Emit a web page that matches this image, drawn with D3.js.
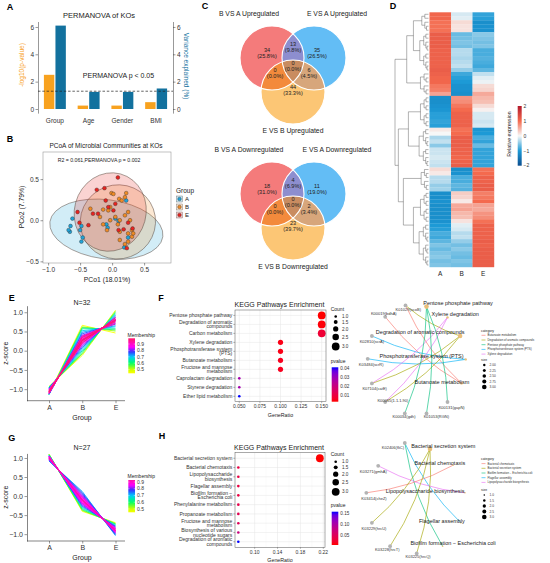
<!DOCTYPE html>
<html>
<head>
<meta charset="utf-8">
<title>Figure</title>
<script src="https://cdn.jsdelivr.net/npm/d3@7"></script>
<style>
  body { margin: 0; background: #fff; }
  svg text { font-family: "Liberation Sans", Arial, Helvetica, sans-serif; }
</style>
</head>
<body>
<div id="fig"></div>
<script>
// ---------- data: A (PERMANOVA) ----------
var permFactors = ["Group", "Age", "Gender", "BMI"];
var permLogP = [2.5, 0.25, 0.25, 0.5];
var permVariance = [6.1, 1.25, 1.25, 1.5];

// ---------- data: B (PCoA) ----------
var pcoaGroups = ["A", "B", "E"];
var pcoaAx = [-0.62, -0.65, -0.66, -0.68, -0.50, -0.46, -0.48, -0.09, -0.07, 0.05, 0.10, 0.19, 0.22, 0.25, -0.48];
var pcoaAy = [0.02, -0.07, -0.14, -0.12, -0.12, -0.21, -0.26, -0.05, -0.09, 0.02, -0.01, -0.33, 0.24, -0.21, -0.07];
var pcoaBx = [-0.01, 0.02, 0.11, 0.15, 0.22, 0.20, -0.03, -0.06, -0.14, -0.19, -0.03, 0.05, 0.12, 0.20, 0.25, 0.28, 0.31, 0.25, 0.12, 0.31, 0.12, 0.20, 0.25, -0.08, -0.14, 0.09, -0.34, 0.33];
var pcoaBy = [0.33, 0.32, 0.26, 0.24, 0.33, 0.28, 0.16, 0.12, 0.13, 0.04, 0.00, 0.04, 0.00, 0.06, 0.10, 0.00, -0.12, -0.16, -0.14, -0.20, -0.24, -0.29, -0.26, -0.12, -0.05, -0.05, 0.14, -0.16];
var pcoaEx = [0.09, -0.24, -0.12, -0.54, -0.51, -0.10, 0.05, -0.22, -0.37, 0.25, 0.23, 0.32, 0.10, -0.30, 0.02, -0.06, 0.18];
var pcoaEy = [0.52, 0.37, 0.39, 0.10, -0.03, 0.24, 0.20, 0.08, -0.06, -0.03, -0.34, -0.10, -0.12, 0.08, 0.12, 0.16, -0.11];
// 95% ellipses (centre x, centre y, semi-axis x, semi-axis y, tilt in degrees)
var ellipseA = [-0.09, -0.11, 0.89, 0.36, 7.5];
var ellipseB = [0.09, -0.02, 0.59, 0.45, -20];
var ellipseE = [-0.03, 0.10, 0.56, 0.48, 15];

// ---------- data: C (Venn) ----------
// regions: only1, 1&2, only2, 1&3, 1&2&3, 2&3, only3
var vennUpNames = ["B VS A Upregulated", "E VS A Upregulated", "E VS B Upregulated"];
var vennUpCounts = [34, 13, 35, 0, 0, 6, 44];
var vennDownNames = ["B VS A Downregulated", "E VS A Downregulated", "E VS B Downregulated"];
var vennDownCounts = [18, 4, 11, 0, 0, 2, 23];

// ---------- data: D (heatmap, row z-scores) ----------
var heatGroups = ["A", "B", "E"];
var heatA = [1.05, 1.05, 0.95, 0.95, 0.95, 1.15, 1.15, 1.15, 1.15, 1.1, 1.1, 1.1, 1.1, 1.1, 1.15,
  1.1, 1.05, 1.05, 0.9, 0.85, 0.6, -1.15, -1.15, -1.1, -1.05, -0.95, -0.95, -0.9, -0.95,
  0.1, 0.0, -0.35, -0.25, -0.5, -0.2, -0.2, -0.15, -0.2, -0.25, 0.2, 0.1, -0.3, -0.3, -0.45, -0.4,
  -1.15, -1.15, -1.1, -1.15, -1.15, -1.15, -1.15, -1.1, -1.0, -0.95, -0.8, -0.85, -0.7, -0.55, -0.65, -0.55, -0.5, -0.6, -0.55];
var heatB = [-0.15, -0.1, 0.2, 0.15, 0.15, -0.65, -0.6, -0.55, -0.6, -0.3, -0.3, -0.35, -0.3, -0.25, -0.45,
  -0.85, -0.95, -1.0, -1.1, -1.1, -1.15, 0.7, 0.75, 0.9, 1.0, 1.1, 1.1, 1.1, 1.1,
  0.95, 1.0, 1.15, 1.15, 1.15, 1.1, 1.1, 1.05, 1.1, 1.15, -1.15, -1.1, -0.8, -0.8, -0.7, -0.75,
  0.3, 0.25, 0.1, 0.55, 0.6, 0.45, 0.4, 0.15, -0.1, -0.15, -0.3, -0.25, -0.45, -0.6, -0.5, -0.6, -0.65, -0.55, -0.6];
var heatE = [-0.9, -0.95, -1.15, -1.1, -1.1, -0.5, -0.55, -0.6, -0.55, -0.8, -0.8, -0.75, -0.8, -0.85, -0.7,
  -0.25, -0.1, -0.05, 0.2, 0.25, 0.55, 0.45, 0.4, 0.2, 0.05, -0.15, -0.15, -0.2, -0.15,
  -1.05, -1.0, -0.8, -0.9, -0.65, -0.9, -0.9, -0.9, -0.9, -0.9, 0.95, 1.0, 1.1, 1.1, 1.15, 1.15,
  0.85, 0.9, 1.0, 0.6, 0.55, 0.7, 0.75, 0.95, 1.1, 1.1, 1.1, 1.1, 1.15, 1.1, 1.15, 1.15, 1.15, 1.15, 1.15];
// dendrogram: leaf blocks (rows per block) and merge heights
var heatBlockSizes = [5, 10, 6, 8, 10, 6, 8, 11];
var heatBlockHeights = [2.0, 2.6, 2.4, 2.4, 2.8, 2.2, 2.4, 2.8];

// ---------- data: E / G (Mfuzz clusters) ----------
var trendGroups = ["A", "B", "E"];
var clusterE = [[-1.12, 0.66, 0.46], [-0.93, -0.12, 1.05], [-1.13, 0.62, 0.51], [-0.94, -0.08, 1.02],
  [-1.14, 0.60, 0.54], [-0.95, -0.04, 0.99], [-1.14, 0.57, 0.57], [-0.96, 0.00, 0.96],
  [-1.14, 0.52, 0.62], [-0.97, 0.04, 0.93], [-1.13, 0.48, 0.65], [-0.98, 0.08, 0.90],
  [-1.13, 0.44, 0.69], [-0.99, 0.12, 0.87], [-1.12, 0.40, 0.72], [-1.00, 0.15, 0.85],
  [-1.12, 0.37, 0.75], [-1.01, 0.18, 0.83], [-1.11, 0.34, 0.77], [-1.02, 0.21, 0.81],
  [-1.10, 0.32, 0.78], [-1.03, 0.23, 0.80], [-1.09, 0.30, 0.79], [-1.04, 0.25, 0.79],
  [-1.08, 0.29, 0.79], [-1.05, 0.27, 0.78], [-1.07, 0.28, 0.79], [-1.06, 0.27, 0.79],
  [-1.10, 0.35, 0.75], [-1.06, 0.20, 0.86], [-1.08, 0.38, 0.70], [-1.07, 0.26, 0.81]];
var memberE = [0.44, 0.47, 0.52, 0.55, 0.58, 0.60, 0.64, 0.66, 0.69, 0.71, 0.73, 0.75, 0.77, 0.79, 0.81, 0.83,
  0.84, 0.86, 0.87, 0.88, 0.89, 0.90, 0.91, 0.92, 0.93, 0.94, 0.95, 0.96, 0.97, 0.98, 0.92, 0.99];
var clusterG = [[1.10, -0.40, -0.70], [1.10, -0.38, -0.72], [1.09, -0.36, -0.73], [1.08, -0.33, -0.75],
  [1.07, -0.30, -0.77], [0.92, 0.12, -1.04], [0.93, 0.09, -1.02], [1.06, -0.27, -0.79],
  [0.94, 0.06, -1.00], [1.05, -0.24, -0.81], [0.95, 0.03, -0.98], [1.04, -0.21, -0.83],
  [0.96, 0.00, -0.96], [1.04, -0.19, -0.85], [0.97, -0.03, -0.94], [1.03, -0.17, -0.86],
  [0.98, -0.05, -0.93], [1.02, -0.15, -0.87], [0.99, -0.07, -0.92], [1.01, -0.12, -0.89],
  [1.00, -0.09, -0.91], [1.00, -0.11, -0.89], [1.01, -0.10, -0.91], [1.00, -0.10, -0.90],
  [1.03, -0.13, -0.90], [0.98, -0.02, -0.96], [1.05, -0.20, -0.85]];
var memberG = [0.45, 0.52, 0.58, 0.63, 0.67, 0.72, 0.75, 0.76, 0.78, 0.79, 0.80, 0.81, 0.82, 0.83,
  0.84, 0.85, 0.86, 0.87, 0.88, 0.89, 0.90, 0.91, 0.92, 0.93, 0.90, 0.87, 0.86];

// ---------- data: F / H (KEGG enrichment) ----------
var keggF = ["Pentose phosphate pathway", "Degradation of aromatic\ncompounds", "Carbon metabolism",
  "Xylene degradation", "Phosphotransferase system\n(PTS)", "Butanoate metabolism",
  "Fructose and mannose\nmetabolism", "Caprolactam degradation", "Styrene degradation", "Ether lipid metabolism"];
var keggFRatio = [0.15, 0.15, 0.15, 0.10, 0.10, 0.10, 0.10, 0.05, 0.05, 0.05];
var keggFCount = [3, 3, 3, 2, 2, 2, 2, 1, 1, 1];
var keggFP = [0.0025, 0.003, 0.008, 0.004, 0.004, 0.005, 0.005, 0.028, 0.028, 0.041];

var keggH = ["Bacterial secretion system", "Bacterial chemotaxis", "Lipopolysaccharide\nbiosynthesis",
  "Flagellar assembly", "Biofilm formation \u2212\nEscherichia coli", "Phenylalanine metabolism",
  "Propanoate metabolism", "Fructose and mannose\nmetabolism", "Biosynthesis of various\nnucleotide sugars",
  "Degradation of aromatic\ncompounds"];
var keggHRatio = [0.214, 0.0714, 0.0714, 0.0714, 0.0714, 0.0714, 0.0714, 0.0714, 0.0714, 0.0714];
var keggHCount = [3, 1, 1, 1, 1, 1, 1, 1, 1, 1];
var keggHP = [0.004, 0.035, 0.035, 0.035, 0.035, 0.04, 0.045, 0.05, 0.075, 0.16];

// ---------- data: gene-concept networks (layout units -1..1) ----------
var netFCats = ["Pentose phosphate pathway", "Xylene degradation", "Degradation of aromatic compounds",
  "Phosphotransferase system (PTS)", "Butanoate metabolism"];
var netFCatCount = [3, 2, 3, 2, 2];
var netFCatX = [-0.05, 0.25, 0.43, 0.51, 0.45];
var netFCatY = [-0.89, -0.71, -0.40, -0.01, 0.39];
var netFCatLabX = [0.40, 0.36, -0.14, -0.12, 0.17];
var netFCatLabY = [-0.95, -0.76, -0.46, -0.06, 0.36];
var netFGenes = ["K01029(scoB)", "K00019(bdhA)", "K02810(scrA)", "K03484(scrR)", "K07104(catE)",
  "K00055(1.1.1.90)", "K00034(gdh)", "K01053(RGN)", "K00131(gapN)"];
var netFGeneX = [-0.35, -0.64, -0.83, -0.89, -0.83, -0.64, -0.36, -0.05, 0.25];
var netFGeneY = [-0.91, -0.72, -0.40, -0.02, 0.39, 0.70, 0.89, 0.89, 0.70];
var netFGeneLabX = [-0.31, -0.66, -0.83, -0.84, -0.79, -0.53, -0.37, 0.09, 0.31];
var netFGeneLabY = [-0.84, -0.78, -0.30, 0.07, 0.48, 0.68, 0.95, 0.95, 0.79];
var netFEdges = [[0, 4], [0, 2], [1, 4], [2, 3], [3, 3], [4, 2], [4, 1], [5, 2], [5, 1], [6, 0], [7, 0], [8, 0]];

var netHCats = ["Bacterial secretion system", "Bacterial chemotaxis", "Lipopolysaccharide biosynthesis",
  "Flagellar assembly", "Biofilm formation \u2212 Escherichia coli"];
var netHCatCount = [3, 1, 1, 1, 1];
var netHCatX = [0.00, 0.33, 0.50, 0.44, 0.18];
var netHCatY = [-0.85, -0.58, -0.12, 0.38, 0.77];
var netHCatLabX = [0.19, 0.14, -0.07, 0.17, 0.33];
var netHCatLabY = [-0.90, -0.61, -0.15, 0.35, 0.71];
var netHGenes = ["K02406(fliC)", "K03271(gmhA)", "K03414(cheZ)", "K03229(hrcU)", "K03228(hrcT)", "K03225(hrcQ)"];
var netHGeneX = [-0.36, -0.74, -0.91, -0.83, -0.57, -0.19];
var netHGeneY = [-0.95, -0.57, -0.12, 0.38, 0.77, 0.89];
var netHGeneLabX = [-0.53, -0.81, -0.80, -0.80, -0.61, -0.17];
var netHGeneLabY = [-0.88, -0.48, -0.03, 0.47, 0.83, 0.95];
var netHEdges = [[0, 3], [0, 4], [1, 2], [2, 1], [3, 0], [4, 0], [5, 0]];

// ================= drawing =================
var svg = d3.select("#fig").append("svg").attr("width", 550).attr("height", 563);
svg.append("rect").attr("width", 550).attr("height", 563).attr("fill", "#fff");
var defs = svg.append("defs");

function addText(g, x, y, s, size, o) {
  o = o || {};
  var t = g.append("text").attr("x", x).attr("y", y).attr("dy", o.dy || "0.35em")
    .attr("text-anchor", o.anchor || "middle")
    .style("font-size", size + "px").style("fill", o.fill || "#222").text(s);
  if (o.bold) t.style("font-weight", "bold");
  if (o.rotate) t.attr("transform", "rotate(" + o.rotate + "," + x + "," + y + ")");
  return t;
}

function styleAxis(a, size) {
  a.attr("font-family", null).attr("font-size", null);
  a.selectAll("text").style("font-size", size + "px").style("fill", "#333");
  a.selectAll("line").attr("stroke", "#333").attr("stroke-width", 0.5);
  a.selectAll("path").attr("stroke", "#333").attr("stroke-width", 0.5);
}

// panel letters
[["A", 10, 7], ["B", 10, 139], ["C", 205, 6], ["D", 393, 6], ["E", 11.7, 298], ["F", 161, 298],
 ["G", 11.7, 438], ["H", 162, 436]].forEach(function (p) {
  addText(svg, p[1], p[2], p[0], 9, {bold: true, fill: "#000"});
});

// ---------- Panel A ----------
var gA = svg.append("g");
var xA = d3.scaleBand().domain(permFactors).range([38, 173]).paddingInner(0.35).paddingOuter(0.175);
var xA2 = d3.scaleBand().domain(["logp", "variance"]).range([0, xA.bandwidth()]).paddingInner(0.1);
var yA = d3.scaleLinear().domain([-0.3, 6.4]).range([113.1, 21.5]);
var permRows = permFactors.map(function (f, i) {
  return {f: f, logp: permLogP[i], variance: permVariance[i]};
});
["logp", "variance"].forEach(function (k) {
  gA.selectAll("rect." + k).data(permRows).enter().append("rect").attr("class", k)
    .attr("x", function (d) { return xA(d.f) + xA2(k); })
    .attr("y", function (d) { return yA(d[k]); })
    .attr("width", xA2.bandwidth())
    .attr("height", function (d) { return yA(0) - yA(d[k]); })
    .attr("fill", k === "logp" ? "#f8a21f" : "#12719e");
});
var axA1 = gA.append("g").attr("transform", "translate(38,0)")
  .call(d3.axisLeft(yA).tickValues([0, 2, 4, 6]).tickFormat(d3.format("d")).tickSize(2.5).tickPadding(1.5).tickSizeOuter(0));
styleAxis(axA1, 6.5);
var axA2 = gA.append("g").attr("transform", "translate(173,0)")
  .call(d3.axisRight(yA).tickValues([0, 2, 4, 6]).tickFormat(d3.format("d")).tickSize(2.5).tickPadding(1.5).tickSizeOuter(0));
styleAxis(axA2, 6.5);
gA.selectAll("text.xl").data(permFactors).enter().append("text").attr("class", "xl")
  .attr("x", function (d) { return xA(d) + xA.bandwidth() / 2; }).attr("y", 120.5).attr("dy", "0.35em")
  .attr("text-anchor", "middle").style("font-size", "6.5px").style("fill", "#333").text(function (d) { return d; });
gA.append("line").attr("x1", 38).attr("x2", 173)
  .attr("y1", yA(-Math.log10(0.05))).attr("y2", yA(-Math.log10(0.05)))
  .attr("stroke", "#222").attr("stroke-width", 0.7).attr("stroke-dasharray", "2.5,1.8");
addText(gA, 118.5, 76, "PERMANOVA p < 0.05", 7);
addText(gA, 99, 15, "PERMANOVA of KOs", 7.5);
addText(gA, 21.5, 65, "-log10(p-value)", 6.5, {fill: "#f8a21f", rotate: -90});
addText(gA, 186.5, 66, "Variance explained (%)", 6.5, {fill: "#12719e", rotate: 90});

// ---------- Panel B ----------
var gB = svg.append("g");
var xB = d3.scaleLinear().domain([-1.08, 0.92]).range([43, 171]);
var yB = d3.scaleLinear().domain([-0.52, 0.83]).range([263, 152]);
var groupColor = d3.scaleOrdinal().domain(pcoaGroups).range(["#1fa3d8", "#f08a24", "#e8231f"]);
defs.append("clipPath").attr("id", "clipB").append("rect").attr("x", 43).attr("y", 152).attr("width", 128).attr("height", 111);
var gBin = gB.append("g").attr("clip-path", "url(#clipB)");
var pxPerX = xB(1) - xB(0), pxPerY = yB(0) - yB(1);
[["A", ellipseA], ["B", ellipseB], ["E", ellipseE]].forEach(function (e) {
  var p = e[1];
  gBin.append("ellipse")
    .attr("transform", "translate(" + xB(p[0]) + "," + yB(p[1]) + ") rotate(" + p[4] + ")")
    .attr("rx", p[2] * pxPerX).attr("ry", p[3] * pxPerY)
    .attr("fill", groupColor(e[0])).attr("fill-opacity", 0.2)
    .attr("stroke", "#5a4a40").attr("stroke-opacity", 0.8).attr("stroke-width", 0.6);
});
var pcoaPts = [];
pcoaAx.forEach(function (v, i) { pcoaPts.push({g: "A", x: v, y: pcoaAy[i]}); });
pcoaBx.forEach(function (v, i) { pcoaPts.push({g: "B", x: v, y: pcoaBy[i]}); });
pcoaEx.forEach(function (v, i) { pcoaPts.push({g: "E", x: v, y: pcoaEy[i]}); });
gBin.selectAll("circle.pt").data(pcoaPts).enter().append("circle").attr("class", "pt")
  .attr("cx", function (d) { return xB(d.x); }).attr("cy", function (d) { return yB(d.y); })
  .attr("r", 1.9).attr("fill", function (d) { return groupColor(d.g); })
  .attr("stroke", "#333").attr("stroke-width", 0.4);
gB.append("rect").attr("x", 43).attr("y", 152).attr("width", 128).attr("height", 111)
  .attr("fill", "none").attr("stroke", "#999").attr("stroke-width", 0.6);
var axB1 = gB.append("g").attr("transform", "translate(0,263)")
  .call(d3.axisBottom(xB).tickValues([-1, -0.5, 0, 0.5]).tickFormat(d3.format(".1f")).tickSize(2.5).tickPadding(1.5).tickSizeOuter(0));
styleAxis(axB1, 6.5); axB1.select(".domain").remove();
var axB2 = gB.append("g").attr("transform", "translate(43,0)")
  .call(d3.axisLeft(yB).tickValues([-0.5, 0, 0.5]).tickFormat(d3.format(".1f")).tickSize(2.5).tickPadding(1.5).tickSizeOuter(0));
styleAxis(axB2, 6.5); axB2.select(".domain").remove();
addText(gB, 106, 146, "PCoA of Microbial Communities at KOs", 6.5);
addText(gB, 99, 160, "R2 = 0.061,PERMANOVA p = 0.002", 5.2);
addText(gB, 107, 280, "PCo1 (18.01%)", 6.8);
addText(gB, 22, 207, "PCo2 (7.79%)", 6.8, {rotate: -90});
addText(gB, 176, 191, "Group", 6.5, {anchor: "start"});
pcoaGroups.forEach(function (k, i) {
  var ky = 196 + i * 8;
  gB.append("rect").attr("x", 176.5).attr("y", ky).attr("width", 6).attr("height", 6)
    .attr("fill", groupColor(k)).attr("fill-opacity", 0.25).attr("stroke", "#666").attr("stroke-width", 0.4);
  gB.append("circle").attr("cx", 179.5).attr("cy", ky + 3).attr("r", 1.8)
    .attr("fill", groupColor(k)).attr("stroke", "#333").attr("stroke-width", 0.4);
  addText(gB, 185, ky + 3, k, 6, {anchor: "start"});
});

// ---------- Panel C ----------
var vennFills = ["#f47b7b", "#63bdf5", "#fcc675"];
var vennOverlap = {"01": "#8d8ecf", "02": "#f38a3c", "12": "#d7a67b"};
function drawVenn(cx, cy, names, counts) {
  var g = svg.append("g").attr("transform", "translate(" + cx + "," + cy + ")");
  var r = 32, ctr = [[-21, 0], [21, 0], [0, 34]];
  var uid = "venn" + cy;
  ctr.forEach(function (c, i) {
    g.append("clipPath").attr("id", uid + i).append("circle").attr("cx", c[0]).attr("cy", c[1]).attr("r", r);
  });
  g.selectAll("circle.set").data(ctr).enter().append("circle").attr("class", "set")
    .attr("cx", function (d) { return d[0]; }).attr("cy", function (d) { return d[1]; }).attr("r", r)
    .attr("fill", function (d, i) { return vennFills[i]; });
  [[0, 1], [0, 2], [1, 2]].forEach(function (p) {
    g.append("g").attr("clip-path", "url(#" + uid + p[0] + ")").append("circle")
      .attr("cx", ctr[p[1]][0]).attr("cy", ctr[p[1]][1]).attr("r", r).attr("fill", vennOverlap["" + p[0] + p[1]]);
  });
  g.append("g").attr("clip-path", "url(#" + uid + "0)").append("g").attr("clip-path", "url(#" + uid + "1)")
    .append("circle").attr("cx", ctr[2][0]).attr("cy", ctr[2][1]).attr("r", r).attr("fill", "#c98c60");
  g.selectAll("circle.edge").data(ctr).enter().append("circle").attr("class", "edge")
    .attr("cx", function (d) { return d[0]; }).attr("cy", function (d) { return d[1]; }).attr("r", r)
    .attr("fill", "none").attr("stroke", "#fff").attr("stroke-width", 1.1);
  var total = d3.sum(counts);
  var spots = [[-26, -8], [0, -14], [24, -8], [-18, 12], [0, 5], [16, 12], [0, 29]];
  counts.forEach(function (c, i) {
    addText(g, spots[i][0], spots[i][1], c, 5.6);
    addText(g, spots[i][0], spots[i][1] + 6.3, "(" + d3.format(".1f")(c / total * 100) + "%)", 5.6);
  });
  addText(g, -44, -44, names[0], 6.8);
  addText(g, 44, -44, names[1], 6.8);
  addText(g, 0, 73, names[2], 6.8);
}
drawVenn(293, 58, vennUpNames, vennUpCounts);
drawVenn(293, 194, vennDownNames, vennDownCounts);

// ---------- Panel D ----------
var gD = svg.append("g");
var xD = d3.scaleBand().domain(heatGroups).range([429.5, 494]);
var yD = d3.scaleBand().domain(d3.range(heatA.length)).range([12.3, 267]);
var heatColor = d3.scaleLinear().domain([-2, -1, 0, 1, 2])
  .range(["#0b4e8f", "#1d9ad6", "#f7f7f7", "#f46a4e", "#b2182b"]);
var heatCells = [];
heatA.forEach(function (v, i) {
  heatCells.push({r: i, c: "A", v: v}, {r: i, c: "B", v: heatB[i]}, {r: i, c: "E", v: heatE[i]});
});
gD.selectAll("rect.cell").data(heatCells).enter().append("rect").attr("class", "cell")
  .attr("x", function (d) { return xD(d.c); }).attr("y", function (d) { return yD(d.r); })
  .attr("width", xD.bandwidth() + 0.2).attr("height", yD.bandwidth() + 0.2)
  .attr("fill", function (d) { return heatColor(d.v); });
heatGroups.forEach(function (k) { addText(gD, xD(k) + xD.bandwidth() / 2, 273.5, k, 6.5); });
// dendrogram
function bisectTree(lo, hi, h) {
  if (hi - lo === 1) return {leaf: lo};
  var mid = Math.floor((lo + hi) / 2);
  return {h: h, kids: [bisectTree(lo, mid, h * 0.55), bisectTree(mid, hi, h * 0.55)]};
}
var blocks = [], start = 0;
heatBlockSizes.forEach(function (n, i) { blocks.push(bisectTree(start, start + n, heatBlockHeights[i])); start += n; });
var heatTree = {h: 10, kids: [
  {h: 6.5, kids: [{h: 4.5, kids: [blocks[0], blocks[1]]}, blocks[2]]},
  {h: 9, kids: [{h: 6, kids: [blocks[3], blocks[4]]},
    {h: 7.5, kids: [blocks[5], {h: 4.5, kids: [blocks[6], blocks[7]]}]}]}
]};
var denX = d3.scaleLinear().domain([0, 10]).range([428.5, 395]);
function drawDen(node) {
  if (node.leaf !== undefined) return {x: denX(0), y: yD(node.leaf) + yD.bandwidth() / 2};
  var a = drawDen(node.kids[0]), b = drawDen(node.kids[1]);
  var x = denX(node.h);
  gD.append("path").attr("d", "M" + a.x + "," + a.y + "H" + x + "V" + b.y + "H" + b.x)
    .attr("fill", "none").attr("stroke", "#555").attr("stroke-width", 0.45);
  return {x: x, y: (a.y + b.y) / 2};
}
drawDen(heatTree);
// colour key
var hg = defs.append("linearGradient").attr("id", "heatGrad").attr("x1", 0).attr("y1", 1).attr("x2", 0).attr("y2", 0);
d3.range(0, 1.001, 0.05).forEach(function (t) {
  hg.append("stop").attr("offset", t).attr("stop-color", heatColor(-2 + 4 * t));
});
var keyY = d3.scaleLinear().domain([-2, 2]).range([165.7, 106]);
gD.append("rect").attr("x", 517.7).attr("y", 106).attr("width", 4).attr("height", 59.7).attr("fill", "url(#heatGrad)");
[-2, -1, 0, 1, 2].forEach(function (v) {
  addText(gD, 523.5, keyY(v), d3.format("d")(v), 5, {anchor: "start", fill: "#333"});
});
addText(gD, 509, 134, "Relative expression", 5.2, {rotate: -90});

// ---------- Panels E and G ----------
var memColor = d3.scaleLinear().domain([0.44, 0.5, 0.6, 0.7, 0.78, 0.85, 0.99])
  .range(["#ffff00", "#ccff00", "#00ff66", "#00ccff", "#3333ff", "#ff00ff", "#ff1a66"]).clamp(true);
function drawTrend(o) {
  var g = svg.append("g");
  var x = d3.scalePoint().domain(trendGroups).range([49, 115.5]);
  var y = d3.scaleLinear().domain(o.yDomain).range(o.yRange);
  var line = d3.line().x(function (d, i) { return x(trendGroups[i]); }).y(function (d) { return y(d); });
  var order = d3.range(o.lines.length).sort(function (a, b) { return o.members[a] - o.members[b]; });
  g.selectAll("path.trend").data(order).enter().append("path").attr("class", "trend")
    .attr("d", function (i) { return line(o.lines[i]); })
    .attr("fill", "none").attr("stroke", function (i) { return memColor(o.members[i]); })
    .attr("stroke-width", 0.9);
  var ax = g.append("g").attr("transform", "translate(0," + o.yRange[0] + ")")
    .call(d3.axisBottom(x).tickSize(2.5).tickPadding(1.5).tickSizeOuter(0));
  styleAxis(ax, 7); ax.select(".domain").remove();
  g.append("line").attr("x1", 27).attr("x2", 125).attr("y1", o.yRange[0]).attr("y2", o.yRange[0])
    .attr("stroke", "#333").attr("stroke-width", 0.6);
  var ay = g.append("g").attr("transform", "translate(27,0)")
    .call(d3.axisLeft(y).tickValues([-1, -0.5, 0, 0.5, 1]).tickFormat(d3.format(".1f")).tickSize(2.5).tickPadding(1.5).tickSizeOuter(0));
  styleAxis(ay, 7); ay.select(".domain").attr("stroke-width", 0.6);
  addText(g, 82, o.titleY, "N=" + o.lines.length, 7);
  addText(g, 82, o.yRange[0] + 16.6, "Group", 7);
  addText(g, 6, (o.yRange[0] + o.yRange[1]) / 2, "z-score", 7, {rotate: -90});
  // membership colour bar
  var ext = d3.extent(o.members);
  var ls = d3.scaleLinear().domain(ext).range([o.barBottom, o.barTop]);
  var gid = "mem" + o.titleY;
  var gr = defs.append("linearGradient").attr("id", gid).attr("x1", 0).attr("y1", 1).attr("x2", 0).attr("y2", 0);
  d3.range(0, 1.001, 0.05).forEach(function (t) {
    gr.append("stop").attr("offset", t).attr("stop-color", memColor(ext[0] + t * (ext[1] - ext[0])));
  });
  g.append("rect").attr("x", 128.3).attr("y", o.barTop).attr("width", 6.7).attr("height", o.barBottom - o.barTop)
    .attr("fill", "url(#" + gid + ")");
  addText(g, 127.5, o.barTop - 3.5, "Membership", 5, {anchor: "start"});
  [0.5, 0.6, 0.7, 0.8, 0.9].forEach(function (v) {
    g.append("line").attr("x1", 128.3).attr("x2", 129.6).attr("y1", ls(v)).attr("y2", ls(v)).attr("stroke", "#fff").attr("stroke-width", 0.4);
    g.append("line").attr("x1", 133.7).attr("x2", 135).attr("y1", ls(v)).attr("y2", ls(v)).attr("stroke", "#fff").attr("stroke-width", 0.4);
    addText(g, 137, ls(v), d3.format(".1f")(v), 5, {anchor: "start", fill: "#333"});
  });
}
drawTrend({lines: clusterE, members: memberE, yDomain: [-1.3, 1.17], yRange: [400.7, 305.7],
  titleY: 303, barTop: 338.3, barBottom: 373.3});
drawTrend({lines: clusterG, members: memberG, yDomain: [-1.18, 1.12], yRange: [541, 453.4],
  titleY: 448, barTop: 480, barBottom: 512.3});

// ---------- Panels F and H (dot plots) ----------
var sizeScale = d3.scaleLinear().domain([1, 3]).range([1.3, 3.9]);
function drawDot(o) {
  var g = svg.append("g");
  var x = d3.scaleLinear().domain(o.xDomain).range([235, o.right]);
  var y = d3.scalePoint().domain(o.names).range([o.top, o.bottom]).padding(0.6);
  var minors = o.ticks.slice(1).map(function (t, i) { return (t + o.ticks[i]) / 2; });
  g.selectAll("line.vmin").data(minors).enter().append("line").attr("class", "vmin")
    .attr("x1", function (d) { return x(d); }).attr("x2", function (d) { return x(d); })
    .attr("y1", o.top).attr("y2", o.bottom).attr("stroke", "#f0f0f0").attr("stroke-width", 0.3);
  g.selectAll("line.vmaj").data(o.ticks).enter().append("line").attr("class", "vmaj")
    .attr("x1", function (d) { return x(d); }).attr("x2", function (d) { return x(d); })
    .attr("y1", o.top).attr("y2", o.bottom).attr("stroke", "#e4e4e4").attr("stroke-width", 0.5);
  g.selectAll("line.hmaj").data(o.names).enter().append("line").attr("class", "hmaj")
    .attr("x1", 235).attr("x2", o.right).attr("y1", function (d) { return y(d); }).attr("y2", function (d) { return y(d); })
    .attr("stroke", "#e4e4e4").attr("stroke-width", 0.5);
  var pColor = d3.scaleLinear().domain(d3.extent(o.p)).range(["red", "blue"]).interpolate(d3.interpolateLab);
  var rows = o.names.map(function (n, i) { return {n: n, r: o.ratio[i], c: o.count[i], p: o.p[i]}; });
  g.selectAll("circle.dot").data(rows).enter().append("circle").attr("class", "dot")
    .attr("cx", function (d) { return x(d.r); }).attr("cy", function (d) { return y(d.n); })
    .attr("r", function (d) { return sizeScale(d.c); }).attr("fill", function (d) { return pColor(d.p); });
  g.append("rect").attr("x", 235).attr("y", o.top).attr("width", o.right - 235).attr("height", o.bottom - o.top)
    .attr("fill", "none").attr("stroke", "#555").attr("stroke-width", 0.5);
  o.names.forEach(function (n) {
    var parts = n.split("\n");
    g.append("line").attr("x1", 233.3).attr("x2", 235).attr("y1", y(n)).attr("y2", y(n)).attr("stroke", "#444").attr("stroke-width", 0.4);
    var t = g.append("text").attr("x", 232.3).attr("y", y(n)).attr("text-anchor", "end")
      .style("font-size", "5px").style("fill", "#333");
    parts.forEach(function (p, k) {
      t.append("tspan").attr("x", 232.3).attr("dy", k === 0 ? (0.35 - (parts.length - 1) * 0.46) + "em" : "0.92em").text(p);
    });
  });
  o.ticks.forEach(function (v) {
    g.append("line").attr("x1", x(v)).attr("x2", x(v)).attr("y1", o.bottom).attr("y2", o.bottom + 1.5).attr("stroke", "#444").attr("stroke-width", 0.4);
    addText(g, x(v), o.bottom + 4.6, o.fmt(v), 5, {fill: "#333"});
  });
  addText(g, (235 + o.right) / 2, o.bottom + 13.3, "GeneRatio", 5.3);
  addText(g, (235 + o.right) / 2 - 1, o.top - 5, "KEGG Pathways Enrichment", 7);
  // Count legend
  addText(g, 330.7, o.countY, "Count", 5, {anchor: "start"});
  var cy = o.countY + 7.5, prev = null;
  [1.0, 1.5, 2.0, 2.5, 3.0].forEach(function (v) {
    var r = sizeScale(v);
    if (prev !== null) cy += prev + r + 2.3;
    g.append("circle").attr("cx", 335.7).attr("cy", cy).attr("r", r).attr("fill", "#000");
    addText(g, 342, cy, d3.format(".1f")(v), 4.6, {anchor: "start", fill: "#333"});
    prev = r;
  });
  // pvalue legend
  var pe = d3.extent(o.p);
  var ps = d3.scaleLinear().domain(pe).range([o.pBottom, o.pTop]);
  var gid = "pg" + o.top;
  var gr = defs.append("linearGradient").attr("id", gid).attr("x1", 0).attr("y1", 1).attr("x2", 0).attr("y2", 0);
  d3.range(0, 1.001, 0.1).forEach(function (t) {
    gr.append("stop").attr("offset", t).attr("stop-color", pColor(pe[0] + t * (pe[1] - pe[0])));
  });
  addText(g, 330.7, o.pTop - 6.5, "pvalue", 5, {anchor: "start"});
  g.append("rect").attr("x", 331.7).attr("y", o.pTop).attr("width", 6.6).attr("height", o.pBottom - o.pTop)
    .attr("fill", "url(#" + gid + ")");
  o.pTicks.forEach(function (v) {
    addText(g, 340.3, ps(v), o.pFmt(v), 4.6, {anchor: "start", fill: "#333"});
  });
}
drawDot({names: keggF, ratio: keggFRatio, count: keggFCount, p: keggFP,
  xDomain: [0.0448, 0.1552], right: 326, top: 310, bottom: 401.7,
  ticks: [0.05, 0.075, 0.1, 0.125, 0.15], fmt: d3.format(".3f"),
  countY: 309, pTop: 367.3, pBottom: 401.7, pTicks: [0.01, 0.02, 0.03, 0.04], pFmt: d3.format(".2f")});
drawDot({names: keggH, ratio: keggHRatio, count: keggHCount, p: keggHP,
  xDomain: [0.0656, 0.223], right: 325, top: 452.7, bottom: 547.3,
  ticks: [0.10, 0.14, 0.18, 0.22], fmt: d3.format(".2f"),
  countY: 454.3, pTop: 511.7, pBottom: 545, pTicks: [0.05, 0.10, 0.15], pFmt: d3.format(".2f")});

// ---------- gene-concept networks ----------
var hue5 = ["#F8766D", "#A3A500", "#00BF7D", "#00B0F6", "#E76BF3"];
function drawNet(o) {
  var g = svg.append("g");
  var x = d3.scaleLinear().domain([-1, 1]).range([360, 500]);
  var y = d3.scaleLinear().domain([-1, 1]).range(o.yRange);
  var legendCats = o.cats.slice().sort(d3.ascending);
  var catColor = d3.scaleOrdinal().domain(legendCats).range(hue5);
  o.edges.forEach(function (e) {
    var x1 = x(o.geneX[e[0]]), y1 = y(o.geneY[e[0]]), x2 = x(o.catX[e[1]]), y2 = y(o.catY[e[1]]);
    var cx = (x1 + x2) / 2 - (y2 - y1) * 0.1, cy = (y1 + y2) / 2 + (x2 - x1) * 0.1;
    g.append("path").attr("d", "M" + x1 + "," + y1 + "Q" + cx + "," + cy + " " + x2 + "," + y2)
      .attr("fill", "none").attr("stroke", catColor(o.cats[e[1]])).attr("stroke-opacity", 0.8).attr("stroke-width", 0.8);
  });
  o.genes.forEach(function (n, i) {
    g.append("circle").attr("cx", x(o.geneX[i])).attr("cy", y(o.geneY[i])).attr("r", 1.9).attr("fill", "#b3b3b3");
  });
  o.cats.forEach(function (n, i) {
    g.append("circle").attr("cx", x(o.catX[i])).attr("cy", y(o.catY[i])).attr("r", o.rScale(o.catCount[i])).attr("fill", "#eabf7a");
  });
  o.genes.forEach(function (n, i) {
    addText(g, x(o.geneLabX[i]), y(o.geneLabY[i]), n, 4, {fill: "#333"});
  });
  o.cats.forEach(function (n, i) {
    addText(g, x(o.catLabX[i]), y(o.catLabY[i]), n, 5.5);
  });
  // legends
  addText(g, 481, o.legY, "category", 3.4, {anchor: "start"});
  legendCats.forEach(function (n, i) {
    var ly = o.legY + 4.3 + i * 4.7;
    g.append("line").attr("x1", 481.5).attr("x2", 485.5).attr("y1", ly).attr("y2", ly)
      .attr("stroke", catColor(n)).attr("stroke-opacity", 0.6).attr("stroke-width", 1);
    addText(g, 487.5, ly, n, 2.9, {anchor: "start", fill: "#333"});
  });
  addText(g, 481, o.sizeY, "size", 3.4, {anchor: "start"});
  o.sizeVals.forEach(function (v, i) {
    var ly = o.sizeY + 5 + i * 5.5;
    g.append("circle").attr("cx", 484.3).attr("cy", ly).attr("r", o.rScale(v)).attr("fill", "#000");
    addText(g, 489.5, ly, o.sizeFmt(v), 3.2, {anchor: "start", fill: "#333"});
  });
}
drawNet({cats: netFCats, catCount: netFCatCount, catX: netFCatX, catY: netFCatY, catLabX: netFCatLabX, catLabY: netFCatLabY,
  genes: netFGenes, geneX: netFGeneX, geneY: netFGeneY, geneLabX: netFGeneLabX, geneLabY: netFGeneLabY,
  edges: netFEdges, yRange: [300, 420], rScale: d3.scaleSqrt().domain([2, 3]).range([1.2, 2.3]),
  legY: 331, sizeY: 360, sizeVals: [2, 2.25, 2.5, 2.75, 3], sizeFmt: d3.format(".2f")});
drawNet({cats: netHCats, catCount: netHCatCount, catX: netHCatX, catY: netHCatY, catLabX: netHCatLabX, catLabY: netHCatLabY,
  genes: netHGenes, geneX: netHGeneX, geneY: netHGeneY, geneLabX: netHGeneLabX, geneLabY: netHGeneLabY,
  edges: netHEdges, yRange: [440, 560], rScale: d3.scaleSqrt().domain([1, 3]).range([0.8, 2.3]),
  legY: 459.3, sizeY: 490, sizeVals: [1, 1.5, 2, 2.5, 3], sizeFmt: d3.format(".1f")});
</script>
</body>
</html>
